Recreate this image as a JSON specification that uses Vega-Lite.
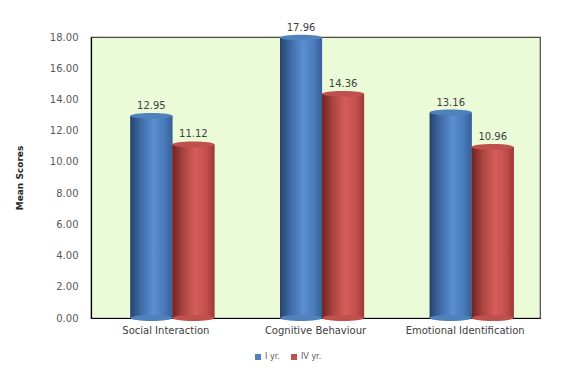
{
  "$schema": "https://vega.github.io/schema/vega-lite/v6.json",
  "autosize": {"type": "none"},
  "width": 449,
  "height": 281,
  "padding": {"left": 91, "top": 37, "right": 29, "bottom": 52},
  "background": "white",
  "data": {
    "values": [
      {"domain": "Social Interaction", "year": "I yr.", "score": 12.95},
      {"domain": "Social Interaction", "year": "IV yr.", "score": 11.12},
      {"domain": "Cognitive Behaviour", "year": "I yr.", "score": 17.96},
      {"domain": "Cognitive Behaviour", "year": "IV yr.", "score": 14.36},
      {"domain": "Emotional Identification", "year": "I yr.", "score": 13.16},
      {"domain": "Emotional Identification", "year": "IV yr.", "score": 10.96}
    ]
  },
  "encoding": {
    "x": {
      "field": "domain",
      "type": "nominal",
      "sort": null,
      "scale": {"paddingInner": 0, "paddingOuter": 0},
      "axis": {
        "title": null,
        "labelAngle": 0,
        "labelFont": "DejaVu Sans",
        "labelFontSize": 10,
        "labelColor": "#404040",
        "labelPadding": 7,
        "ticks": false,
        "domainColor": "#000000",
        "domainWidth": 1.2
      }
    },
    "xOffset": {
      "field": "year",
      "type": "nominal",
      "scale": {"paddingInner": 0, "paddingOuter": 0.78, "align": 0.6}
    },
    "y": {
      "field": "score",
      "type": "quantitative",
      "scale": {"domain": [0, 18], "nice": false},
      "axis": {
        "title": "Mean Scores",
        "titleFont": "DejaVu Sans",
        "titleFontSize": 9,
        "titleFontWeight": "bold",
        "titleColor": "#262626",
        "titlePadding": 25,
        "format": ".2f",
        "values": [0, 2, 4, 6, 8, 10, 12, 14, 16, 18],
        "labelFont": "DejaVu Sans",
        "labelFontSize": 10,
        "labelColor": "#595959",
        "labelPadding": 13,
        "ticks": false,
        "grid": false,
        "domainColor": "#000000",
        "domainWidth": 1.2
      }
    }
  },
  "layer": [
    {
      "mark": {"type": "bar", "opacity": 1},
      "encoding": {
        "color": {
          "field": "year",
          "type": "nominal",
          "scale": {"domain": ["I yr.", "IV yr."], "range": ["#4F81BD", "#C0504D"]},
          "legend": {
            "title": null,
            "orient": "none",
            "legendX": 163,
            "legendY": 316,
            "direction": "horizontal",
            "symbolType": "square",
            "symbolSize": 36,
            "symbolStrokeWidth": 0,
            "labelFont": "DejaVu Sans",
            "labelFontSize": 8,
            "labelColor": "#595959",
            "columnPadding": 10,
            "labelOffset": 3
          }
        }
      }
    },
    {
      "transform": [{"filter": "datum.year === 'I yr.'"}],
      "mark": {
        "type": "bar",
        "color": {
          "gradient": "linear",
          "x1": 0, "y1": 0, "x2": 1, "y2": 0,
          "stops": [
            {"offset": 0, "color": "#26446c"},
            {"offset": 0.25, "color": "#3f6aa6"},
            {"offset": 0.55, "color": "#5b8fd2"},
            {"offset": 0.8, "color": "#4a7bba"},
            {"offset": 1, "color": "#36609a"}
          ]
        }
      }
    },
    {
      "transform": [{"filter": "datum.year === 'IV yr.'"}],
      "mark": {
        "type": "bar",
        "color": {
          "gradient": "linear",
          "x1": 0, "y1": 0, "x2": 1, "y2": 0,
          "stops": [
            {"offset": 0, "color": "#6e2422"},
            {"offset": 0.25, "color": "#a84340"},
            {"offset": 0.55, "color": "#d55d5a"},
            {"offset": 0.8, "color": "#c4504d"},
            {"offset": 1, "color": "#9c3a38"}
          ]
        }
      }
    },
    {
      "mark": {
        "type": "point",
        "filled": true,
        "opacity": 1,
        "size": 1764,
        "shape": "M -1 0 A 1 0.14 0 1 0 1 0 A 1 0.14 0 1 0 -1 0 Z"
      },
      "encoding": {
        "y": {"datum": 0},
        "color": {
          "field": "year",
          "type": "nominal",
          "scale": {"domain": ["I yr.", "IV yr."], "range": ["#4a7bba", "#c4504d"]},
          "legend": null
        }
      }
    },
    {
      "mark": {
        "type": "point",
        "filled": true,
        "opacity": 1,
        "size": 1764,
        "shape": "M -1 0 A 1 0.14 0 1 0 1 0 A 1 0.14 0 1 0 -1 0 Z"
      },
      "encoding": {
        "color": {
          "field": "year",
          "type": "nominal",
          "scale": {"domain": ["I yr.", "IV yr."], "range": ["#5a8bc8", "#d25f5c"]},
          "legend": null
        }
      }
    },
    {
      "mark": {
        "type": "text",
        "baseline": "bottom",
        "dy": -5,
        "font": "DejaVu Sans",
        "fontSize": 10,
        "color": "#404040"
      },
      "encoding": {
        "text": {"field": "score", "type": "quantitative", "format": ".2f"}
      }
    }
  ],
  "config": {
    "view": {"fill": "#EBFBD8", "stroke": "#4a4a4a", "strokeWidth": 1.2}
  }
}
